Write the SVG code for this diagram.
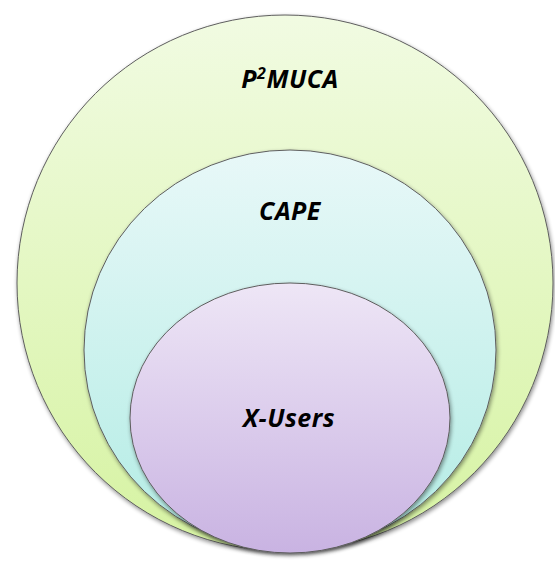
<svg xmlns="http://www.w3.org/2000/svg" width="555" height="562" viewBox="0 0 555 562">
<defs>
<linearGradient id="gOuter" x1="0" y1="0" x2="0" y2="1">
<stop offset="0" stop-color="#f1fbe2"/>
<stop offset="1" stop-color="#d6f3a2"/>
</linearGradient>
<linearGradient id="gMid" x1="0" y1="0" x2="0" y2="1">
<stop offset="0" stop-color="#e8f8f8"/>
<stop offset="1" stop-color="#b2ece4"/>
</linearGradient>
<linearGradient id="gInner" x1="0" y1="0" x2="0" y2="1">
<stop offset="0" stop-color="#eee6f6"/>
<stop offset="1" stop-color="#c9b3e2"/>
</linearGradient>
<filter id="sh" x="-10%" y="-10%" width="120%" height="125%">
<feGaussianBlur in="SourceAlpha" stdDeviation="2"/>
<feOffset dx="1" dy="2" result="b"/>
<feComponentTransfer><feFuncA type="linear" slope="0.45"/></feComponentTransfer>
<feMerge><feMergeNode/><feMergeNode in="SourceGraphic"/></feMerge>
</filter>
</defs>
<style>
.shape{stroke:#5e5e5e;stroke-width:1;filter:url(#sh)}
.lbl{font-family:"Open Sans","Liberation Sans",sans-serif;font-weight:bold;font-style:italic;font-size:25px;letter-spacing:0.5px;fill:#000;text-anchor:middle}
</style>
<rect width="555" height="562" fill="#ffffff"/>
<g id="p2muca">
<circle class="shape" cx="285" cy="283" r="268" fill="url(#gOuter)"/>
<text class="lbl" x="290" y="88">P<tspan font-size="16" dy="-9">2</tspan><tspan dy="9">MUCA</tspan></text>
</g>
<g id="cape">
<ellipse class="shape" cx="290" cy="350" rx="206" ry="200" fill="url(#gMid)"/>
<text class="lbl" x="290" y="220">CAPE</text>
</g>
<g id="xusers">
<ellipse class="shape" cx="290" cy="418" rx="160" ry="135" fill="url(#gInner)"/>
<text class="lbl" x="289" y="427">X-Users</text>
</g>
<g id="connectors"/>
</svg>
